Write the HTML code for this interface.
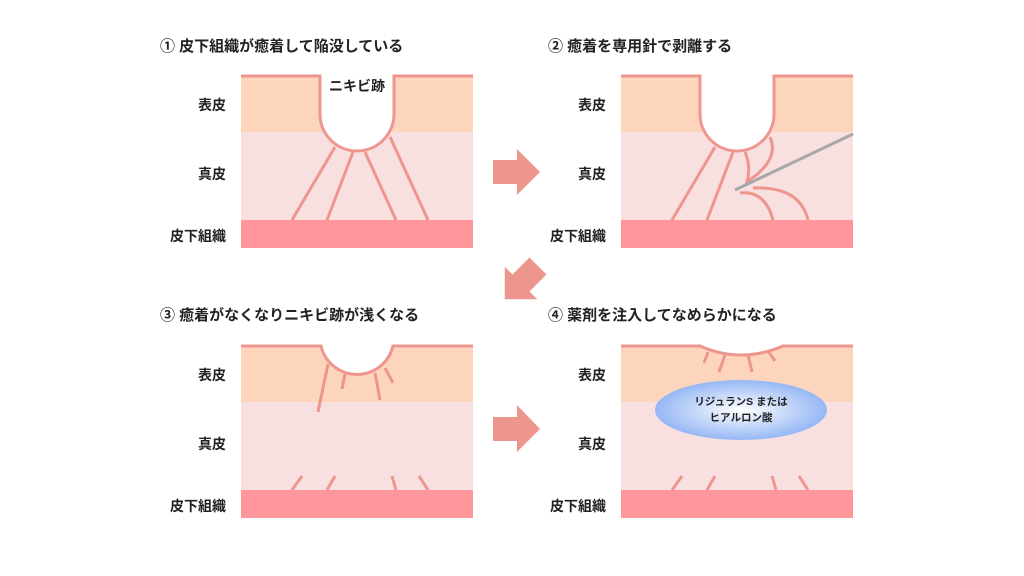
<!DOCTYPE html>
<html><head><meta charset="utf-8"><style>
html,body{margin:0;padding:0;background:#fff;}
svg{display:block}
text{font-family:"Liberation Sans","Noto Sans CJK JP",sans-serif;font-weight:bold;fill:#222}
</style></head><body>
<svg width="1024" height="576" viewBox="0 0 1024 576" xmlns="http://www.w3.org/2000/svg">
<defs>
<radialGradient id="g" cx="0.5" cy="0.5" r="0.5">
<stop offset="0" stop-color="#ffffff"/><stop offset="1" stop-color="#96b7f5"/>
</radialGradient>
<g id="layers" stroke="none">
<rect x="241" y="76" width="232" height="56" fill="#fdd5bd" stroke="none"/>
<rect x="241" y="132" width="232" height="88" fill="#f8e0e0" stroke="none"/>
<rect x="241" y="220" width="232" height="28" fill="#fe969b" stroke="none"/>
</g>
<g id="labels">
<text x="226" y="110" font-size="14" text-anchor="end">表皮</text>
<text x="226" y="179" font-size="14" text-anchor="end">真皮</text>
<text x="226" y="241" font-size="14" text-anchor="end">皮下組織</text>
</g>
</defs>
<!-- Panel 1 -->
<use href="#layers"/>
<use href="#layers" transform="translate(380,0)"/>
<use href="#layers" transform="translate(0,270)"/>
<use href="#layers" transform="translate(380,270)"/>
<g fill="none" stroke="#ee958e" stroke-width="3" stroke-linecap="butt">
<path d="M320 76 V114 A37 37 0 0 0 394 114 V76 Z" fill="#fff" stroke="none"/>
<path d="M241 76 H320 V114 A37 37 0 0 0 394 114 V76 H473"/>
<path d="M335 147 L292 220 M353 152 L327 220 M365 152 L396 220 M390 137 L428 220"/>
<!-- Panel 2 -->
<g transform="translate(380,0)">
<path d="M320 76 V114 A37 37 0 0 0 394 114 V76 Z" fill="#fff" stroke="none"/>
<path d="M241 76 H320 V114 A37 37 0 0 0 394 114 V76 H473"/>
<path d="M335 147 L292 220 M353 152 L327 220"/>
<path d="M365 152 Q372 168 366 185"/>
<path d="M390 137 Q400 160 368 181"/>
<path d="M360 193 Q385 190 393 220"/>
<path d="M373 188 Q420 186 428 220"/>
</g>
<!-- Panel 3 -->
<g transform="translate(0,270)">
<path d="M321 76 A37 37 0 0 0 393 76 Z" fill="#fff" stroke="none"/>
<path d="M241 76 H321 A37 37 0 0 0 393 76 H473"/>
<path d="M328 94 L318 142 M345 104 L342 119 M375 103 L380 130 M385 98 L393 113"/>
<path d="M302 206 L292 220 M335 206 L327 220 M392 206 L396 220 M419 206 L428 220"/>
</g>
<!-- Panel 4 -->
<g transform="translate(380,270)">
<path d="M320 76 Q361 94 403 76 Z" fill="#fff" stroke="none"/>
<path d="M241 76 H320 Q361 94 403 76 H473"/>
<path d="M328 82 L324 93 M345 85 L339 102 M368 85 L372 102 M388 81 L395 91"/>
<path d="M302 206 L292 220 M335 206 L327 220 M392 206 L396 220 M419 206 L428 220"/>
</g>
</g>
<line x1="853" y1="134" x2="735" y2="190" stroke="#a8a8a8" stroke-width="3"/>
<ellipse cx="741" cy="410" rx="86" ry="30" fill="url(#g)"/>
<text x="741" y="405" font-size="10.5" text-anchor="middle">リジュランS または</text>
<text x="741" y="421" font-size="10.5" text-anchor="middle">ヒアルロン酸</text>
<use href="#labels"/>
<use href="#labels" transform="translate(380,0)"/>
<use href="#labels" transform="translate(0,270)"/>
<use href="#labels" transform="translate(380,270)"/>
<text x="160" y="51" font-size="15">① 皮下組織が癒着して陥没している</text>
<text x="548" y="51" font-size="15">② 癒着を専用針で剥離する</text>
<text x="160" y="320" font-size="15">③ 癒着がなくなりニキビ跡が浅くなる</text>
<text x="548" y="320" font-size="15">④ 薬剤を注入してなめらかになる</text>
<text x="357" y="91" font-size="14" text-anchor="middle">ニキビ跡</text>
<g fill="#ec968d">
<polygon points="493,160 517,160 517,149 540,172 517,195 517,184 493,184"/>
<polygon points="493,417 517,417 517,405 540,429 517,452 517,441 493,441"/>
<polygon transform="translate(521,283) rotate(135)" points="-24,-12 0,-12 0,-23 23,0 0,23 0,12 -24,12"/>
</g>
</svg>
</body></html>
